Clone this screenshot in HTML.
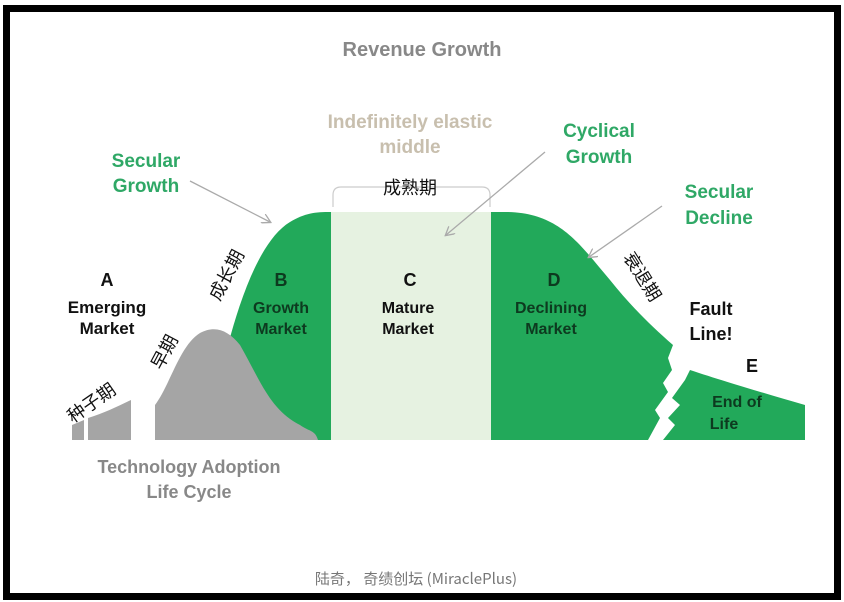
<!DOCTYPE html>
<html><head><meta charset="utf-8"><style>
html,body{margin:0;padding:0;background:#fff;}
body{width:844px;height:602px;overflow:hidden;}
svg{display:block}
text{font-family:"Liberation Sans","Noto Sans CJK SC",sans-serif;font-weight:bold;}
.cn{font-family:"Noto Sans CJK SC","WenQuanYi Zen Hei",sans-serif;font-weight:normal;}
</style></head><body>
<svg width="844" height="602" viewBox="0 0 844 602" xmlns="http://www.w3.org/2000/svg">
<rect x="0" y="0" width="844" height="602" fill="#fff"/>
<rect x="6.5" y="8.5" width="831" height="588" fill="none" stroke="#000" stroke-width="7"/>
<defs><marker id="ar" markerWidth="10" markerHeight="10" refX="8" refY="5" orient="auto" markerUnits="userSpaceOnUse"><path d="M0,0 L9,5 L0,10" fill="none" stroke="#aaa" stroke-width="1.3"/></marker></defs>

<!-- mature band -->
<rect x="330" y="212" width="161" height="228" fill="#e6f2e1"/>
<path d="M333,207 L333,195 Q333,187 341,187 L482,187 Q490,187 490,195 L490,207" fill="none" stroke="#ccc" stroke-width="1.2"/>

<!-- green B -->
<path d="M228,345 C240,300 260,240 290,222 C305,213 315,212 331,212 L331,440 L300,440 Z" fill="#22a95a"/>
<!-- gray hill -->
<path d="M155,440 L155,405 C170,385 180,345 200,333 C215,325 228,330 240,345 C260,380 270,410 300,425 C310,432 315,430 318,440 Z" fill="#a5a5a5"/>
<path d="M72,440 L72,425 L84,420 L84,440 Z M88,440 L88,418 C105,413 120,405 131,400 L131,440 Z" fill="#a5a5a5"/>
<!-- green D -->
<path d="M491,440 L491,212 L505,212 C560,212 580,245 610,280 C630,305 650,325 673,345 L668,358 L672,370 L663,383 L668,392 L655,410 L660,418 L648,440 Z" fill="#22a95a"/>
<!-- green E -->
<path d="M663,440 L675,425 L668,418 L680,405 L672,398 L685,380 L690,370 C720,380 760,392 805,405 L805,440 Z" fill="#22a95a"/>

<!-- arrows -->
<line x1="190" y1="181" x2="270" y2="222" stroke="#aaa" stroke-width="1.3" marker-end="url(#ar)"/>
<line x1="545" y1="152" x2="446" y2="235" stroke="#aaa" stroke-width="1.3" marker-end="url(#ar)"/>
<line x1="662" y1="206" x2="589" y2="257" stroke="#aaa" stroke-width="1.3" marker-end="url(#ar)"/>

<!-- texts -->
<text x="422" y="56" text-anchor="middle" font-size="20" fill="#888">Revenue Growth</text>
<text x="410" y="128" text-anchor="middle" font-size="19" fill="#c8bfae">Indefinitely elastic</text>
<text x="410" y="153" text-anchor="middle" font-size="19" fill="#c8bfae">middle</text>
<text x="410" y="194" text-anchor="middle" font-size="18" fill="#111" class="cn">成熟期</text>
<text x="146" y="167" text-anchor="middle" font-size="19" fill="#2fa866">Secular</text>
<text x="146" y="192" text-anchor="middle" font-size="19" fill="#2fa866">Growth</text>
<text x="599" y="137" text-anchor="middle" font-size="19" fill="#2fa866">Cyclical</text>
<text x="599" y="163" text-anchor="middle" font-size="19" fill="#2fa866">Growth</text>
<text x="719" y="198" text-anchor="middle" font-size="19" fill="#2fa866">Secular</text>
<text x="719" y="224" text-anchor="middle" font-size="19" fill="#2fa866">Decline</text>

<text x="107" y="286" text-anchor="middle" font-size="18" fill="#111">A</text>
<text x="107" y="313" text-anchor="middle" font-size="17" fill="#111">Emerging</text>
<text x="107" y="334" text-anchor="middle" font-size="17" fill="#111">Market</text>
<text x="281" y="286" text-anchor="middle" font-size="18" fill="#0d3a1f">B</text>
<text x="281" y="313" text-anchor="middle" font-size="16" fill="#0d3a1f">Growth</text>
<text x="281" y="334" text-anchor="middle" font-size="16" fill="#0d3a1f">Market</text>
<text x="410" y="286" text-anchor="middle" font-size="18" fill="#111">C</text>
<text x="408" y="313" text-anchor="middle" font-size="16" fill="#111">Mature</text>
<text x="408" y="334" text-anchor="middle" font-size="16" fill="#111">Market</text>
<text x="554" y="286" text-anchor="middle" font-size="18" fill="#0d3a1f">D</text>
<text x="551" y="313" text-anchor="middle" font-size="16" fill="#0d3a1f">Declining</text>
<text x="551" y="334" text-anchor="middle" font-size="16" fill="#0d3a1f">Market</text>
<text x="711" y="315" text-anchor="middle" font-size="18" fill="#111">Fault</text>
<text x="711" y="340" text-anchor="middle" font-size="18" fill="#111">Line!</text>
<text x="752" y="372" text-anchor="middle" font-size="18" fill="#111">E</text>
<text x="737" y="407" text-anchor="middle" font-size="16" fill="#0d3a1f">End of</text>
<text x="724" y="429" text-anchor="middle" font-size="16" fill="#0d3a1f">Life</text>

<text class="cn" font-size="18" fill="#111" transform="translate(232,278) rotate(-62)" text-anchor="middle">成长期</text>
<text class="cn" font-size="18" fill="#111" transform="translate(170,355) rotate(-62)" text-anchor="middle">早期</text>
<text class="cn" font-size="18" fill="#111" transform="translate(95,408) rotate(-35)" text-anchor="middle">种子期</text>
<text class="cn" font-size="18" fill="#111" transform="translate(637,280) rotate(58)" text-anchor="middle">衰退期</text>

<text x="189" y="473" text-anchor="middle" font-size="18" fill="#888">Technology Adoption</text>
<text x="189" y="498" text-anchor="middle" font-size="18" fill="#888">Life Cycle</text>
<text x="416" y="584" text-anchor="middle" font-size="15" fill="#777" style="font-weight:normal" class="cn">陆奇，  奇绩创坛 (MiraclePlus)</text>
</svg>
</body></html>
